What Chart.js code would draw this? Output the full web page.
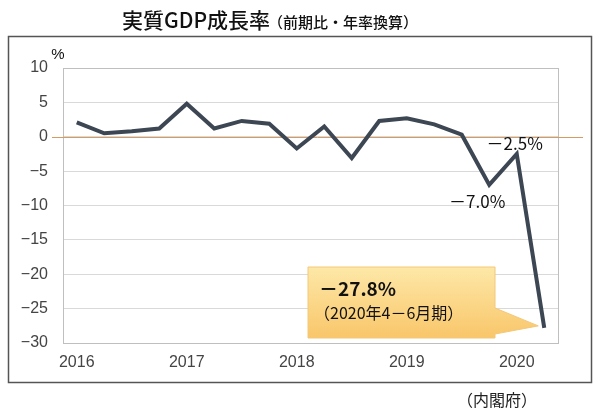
<!DOCTYPE html>
<html>
<head>
<meta charset="utf-8">
<script src="https://cdn.jsdelivr.net/npm/chart.js@4/dist/chart.umd.min.js"></script>
<style>
  body { margin: 0; background: #fff; }
  canvas { display: block; }
</style>
</head>
<body>
<canvas id="gdpChart" width="600" height="412"></canvas>
<script>
// quarterly labels: year shown at each Q1
const quarters = [
    '2016', '', '', '',
    '2017', '', '', '',
    '2018', '', '', '',
    '2019', '', '', '',
    '2020', ''
];
// real GDP growth, q/q annualized (%)
const growth = [
    2.1, 0.5, 0.8, 1.2,
    4.8, 1.2, 2.3, 1.9,
    -1.7, 1.5, -3.1, 2.3,
    2.7, 1.8, 0.3, -7.0,
    -2.5, -27.8
];
const yTicks = [10, 5, 0, -5, -10, -15, -20, -25, -30];

const titleMain = '実質GDP成長率';
const titleSub = '（前期比・年率換算）';
const sourceText = '（内閣府）';
const calloutValue = '－27.8%';
const calloutNote = '（2020年4－6月期）';

const JP = '"Noto Sans CJK JP", "Liberation Sans", sans-serif';
const NUM = '"Liberation Sans", Arial, sans-serif';

function fmtPct(v) {
    return (v < 0 ? '－' : '') + Math.abs(v).toFixed(1) + '%';
}

const decorPlugin = {
    id: 'decor',
    beforeDraw(chart) {
        const ctx = chart.ctx;
        ctx.save();
        ctx.fillStyle = '#fff';
        ctx.fillRect(0, 0, chart.width, chart.height);

        // title
        ctx.fillStyle = '#111';
        ctx.textBaseline = 'middle';
        ctx.font = '500 21px ' + JP;
        ctx.fillText(titleMain, 122, 20);
        const w = ctx.measureText(titleMain).width;
        ctx.font = '500 15px ' + JP;
        ctx.fillText(titleSub, 120 + w, 22);

        // outer frame
        ctx.strokeStyle = '#555';
        ctx.lineWidth = 1.5;
        ctx.strokeRect(8.5, 36.5, 583, 346);

        // source
        ctx.fillStyle = '#222';
        ctx.font = '16px ' + JP;
        ctx.textAlign = 'center';
        ctx.fillText(sourceText, 497, 400);

        // unit
        ctx.font = '15px ' + NUM;
        ctx.fillStyle = '#111';
        ctx.fillText('%', 58, 55);
        ctx.restore();
    },
    beforeDatasetsDraw(chart) {
        const ctx = chart.ctx;
        const a = chart.chartArea;
        const y = chart.scales.y;
        ctx.save();
        ctx.strokeStyle = '#bfbfbf';
        ctx.lineWidth = 1;
        ctx.strokeRect(Math.round(a.left) + 0.5, Math.round(a.top) + 0.5,
            Math.round(a.right - a.left), Math.round(a.bottom - a.top));
        // zero line
        const y0 = Math.round(y.getPixelForValue(0)) + 0.5;
        ctx.strokeStyle = '#d69a62';
        ctx.beginPath();
        ctx.moveTo(52, y0);
        ctx.lineTo(583, y0);
        ctx.stroke();
        ctx.restore();
    },
    afterDatasetsDraw(chart) {
        const ctx = chart.ctx;
        const x = chart.scales.x;
        const y = chart.scales.y;
        const n = growth.length;
        ctx.save();

        // point labels for the last two declines
        ctx.fillStyle = '#111';
        ctx.font = '17px ' + JP;
        ctx.textAlign = 'center';
        ctx.textBaseline = 'middle';
        const iQ4 = n - 3, iQ1 = n - 2;
        ctx.fillText(fmtPct(growth[iQ1]), x.getPixelForValue(iQ1) - 2, y.getPixelForValue(growth[iQ1]) - 10);
        ctx.fillText(fmtPct(growth[iQ4]), x.getPixelForValue(iQ4) - 12, y.getPixelForValue(growth[iQ4]) + 17);

        // callout box pointing at last quarter
        const tipX = x.getPixelForValue(n - 1) - 6;
        const tipY = y.getPixelForValue(growth[n - 1]) - 2;
        const bx = 308, by = 267, bw = 187, bh = 71;
        const grad = ctx.createLinearGradient(0, by, 0, by + bh);
        grad.addColorStop(0, '#fde8a8');
        grad.addColorStop(1, '#f9c66a');
        ctx.beginPath();
        ctx.moveTo(bx, by);
        ctx.lineTo(bx + bw, by);
        ctx.lineTo(bx + bw, by + 41);
        ctx.lineTo(tipX, tipY);
        ctx.lineTo(bx + bw, by + 67);
        ctx.lineTo(bx + bw, by + bh);
        ctx.lineTo(bx, by + bh);
        ctx.closePath();
        ctx.fillStyle = grad;
        ctx.fill();
        ctx.strokeStyle = '#f3c878';
        ctx.lineWidth = 1;
        ctx.stroke();

        ctx.textAlign = 'left';
        ctx.fillStyle = '#111';
        ctx.font = 'bold 19px ' + JP;
        ctx.fillText(calloutValue, 319, 289);
        ctx.font = '16px ' + JP;
        ctx.fillText(calloutNote, 314, 313);
        ctx.restore();
    }
};

new Chart(document.getElementById('gdpChart'), {
    type: 'line',
    data: {
        labels: quarters,
        datasets: [{
            data: growth,
            borderColor: '#3d4653',
            borderWidth: 4,
            pointRadius: 0,
            tension: 0,
            fill: false
        }]
    },
    options: {
        responsive: false,
        animation: false,
        events: [],
        layout: { padding: { top: 68, right: 42, left: 0, bottom: 0 } },
        plugins: {
            legend: { display: false },
            tooltip: { enabled: false }
        },
        scales: {
            x: {
                offset: true,
                grid: { display: false, drawTicks: false },
                border: { display: false },
                ticks: {
                    autoSkip: false,
                    maxRotation: 0,
                    padding: 10,
                    color: '#444',
                    font: { family: NUM, size: 16 }
                },
                afterFit(scale) { scale.height = 69; }
            },
            y: {
                min: -30,
                max: 10,
                afterBuildTicks(scale) {
                    scale.ticks = yTicks.map(v => ({ value: v }));
                },
                grid: { color: '#d9d9d9', drawTicks: false },
                border: { display: false },
                ticks: {
                    padding: 15,
                    color: '#444',
                    font: { family: NUM, size: 16 },
                    callback: v => v < 0 ? '−' + Math.abs(v) : String(v)
                },
                afterFit(scale) { scale.width = 63; }
            }
        }
    },
    plugins: [decorPlugin]
});
</script>
</body>
</html>
